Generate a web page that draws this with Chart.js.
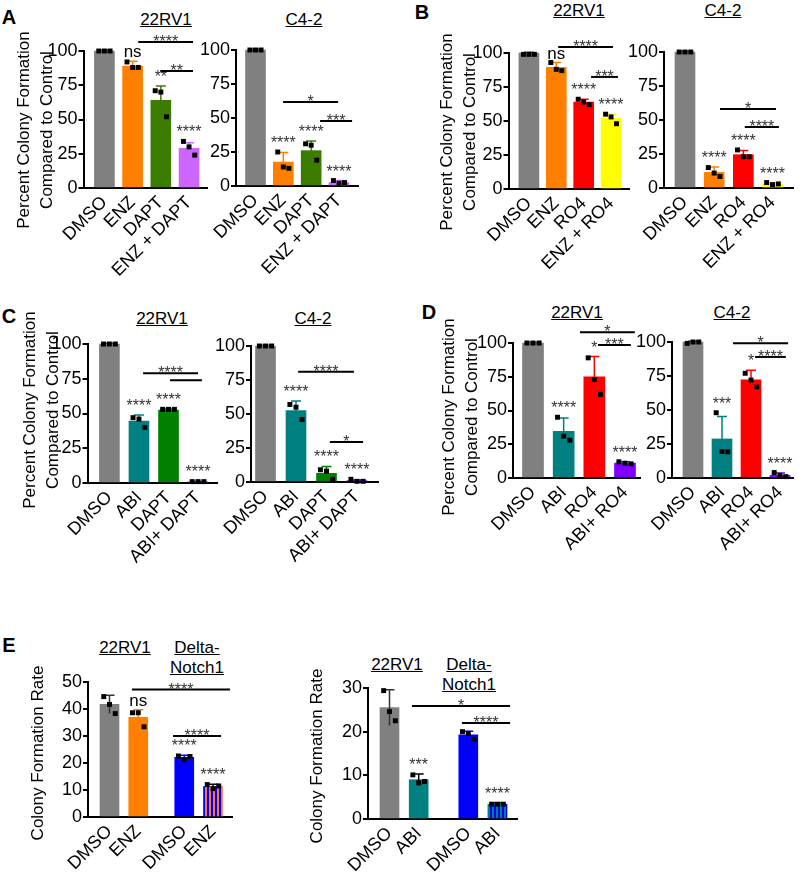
<!DOCTYPE html>
<html lang="en">
<head>
<meta charset="UTF-8">
<title>Colony formation</title>
<script src="https://cdn.jsdelivr.net/npm/chart.js@4"></script>
<style>
  body { margin: 0; background: #fff; font-family: Arial, "Liberation Sans", sans-serif; }
  #fig { position: relative; width: 800px; height: 872px; overflow: hidden; }
  .box { position: absolute; }
  .letter { position: absolute; font-weight: bold; font-size: 20px; line-height: 20px; color: #000; transform: translate(-50%, -50%); }
  .ttl { position: absolute; font-size: 17px; line-height: 20px; color: #000; text-decoration: underline; white-space: nowrap; transform: translate(-50%, -50%); }
</style>
</head>
<body>
<div id="fig">
  <div class="letter" style="left:9px;top:17px">A</div>
  <div class="letter" style="left:422px;top:12px">B</div>
  <div class="letter" style="left:9px;top:316px">C</div>
  <div class="letter" style="left:429px;top:312px">D</div>
  <div class="letter" style="left:9px;top:645px">E</div>

  <div class="ttl" style="left:166px;top:20px">22RV1</div>
  <div class="ttl" style="left:304px;top:20px">C4-2</div>
  <div class="ttl" style="left:579px;top:11px">22RV1</div>
  <div class="ttl" style="left:723px;top:11px">C4-2</div>
  <div class="ttl" style="left:162px;top:319px">22RV1</div>
  <div class="ttl" style="left:313px;top:319px">C4-2</div>
  <div class="ttl" style="left:577px;top:313px">22RV1</div>
  <div class="ttl" style="left:732px;top:313px">C4-2</div>
  <div class="ttl" style="left:125px;top:648px">22RV1</div>
  <div class="ttl" style="left:197px;top:648px">Delta-</div>
  <div class="ttl" style="left:197px;top:668px">Notch1</div>
  <div class="ttl" style="left:397px;top:665px">22RV1</div>
  <div class="ttl" style="left:469px;top:665px">Delta-</div>
  <div class="ttl" style="left:469px;top:685px">Notch1</div>
</div>
<script>
// ---- data ----
const pctTitle = ['Percent Colony Formation', 'Compared to Control'];
const rateTitle = ['Colony Formation Rate'];

// A
const aLabels = ['DMSO', 'ENZ', 'DAPT', 'ENZ + DAPT'];
const a22Means = [100, 89, 64, 29];
const a22Err = [0.5, 3.5, 10.5, 4];
const a22Dots = [[100, 100, 100], [92, 88, 88], [71, 70, 52], [34, 30, 24]];
const a22Stars = ['', 'ns', '**', '****'];
const a22Brackets = [[1.2, 3.14, 106.5, '****'], [1.98, 3.14, 85.4, '**']];

const a42Means = [100, 17.6, 26, 2.5];
const a42Err = [0.5, 7, 7, 1.5];
const a42Dots = [[100, 100, 100], [25, 14, 13], [31, 30, 19], [4, 2, 2.5]];
const a42Stars = ['', '****', '****', '****'];
const a42Brackets = [[0.99, 2.97, 61.8, '*'], [2.32, 3.47, 47.8, '***']];

// B
const bLabels = ['DMSO', 'ENZ', 'RO4', 'ENZ + RO4'];
const b22Means = [100, 89.5, 64, 52];
const b22Err = [0.5, 3.5, 2, 3];
const b22Dots = [[99, 99, 99], [93, 88, 87], [66, 64, 62], [55, 53, 48]];
const b22Stars = ['', 'ns', '****', '****'];
const b22Brackets = [[1.07, 3.07, 104.4, '****'], [2.27, 3.25, 82.4, '***']];

const b42Means = [100, 11.5, 24.5, 3];
const b42Err = [0.5, 4, 3, 1];
const b42Dots = [[100, 100, 100], [15, 11, 8.5], [28, 23, 23], [4, 2.5, 3]];
const b42Stars = ['', '****', '****', '****'];
const b42Brackets = [[1.2, 3.12, 58, '*'], [2.05, 3.22, 44.9, '****']];

// C
const cLabels = ['DMSO', 'ABI', 'DAPT', 'ABI+ DAPT'];
const c22Means = [100, 44.5, 52.5, 0.8];
const c22Err = [0.5, 4.5, 0.8, 0.3];
const c22Dots = [[100, 100, 100], [47, 46, 40], [53, 53, 53], [1, 1, 1]];
const c22Stars = ['', '****', '****', '****'];
const c22Brackets = [[1.14, 3.0, 79, '****'], [2.05, 3.13, 74, '']];

const c42Means = [100, 52.5, 6.4, 1];
const c42Err = [0.5, 7, 5, 0.5];
const c42Dots = [[100, 100, 100], [57, 55, 46], [9, 8, 2], [2, 0.5, 0.5]];
const c42Stars = ['', '****', '****', '****'];
const c42Brackets = [[1.07, 2.9, 81, '****'], [2.11, 3.2, 29.4, '*']];

// D
const dLabels = ['DMSO', 'ABI', 'RO4', 'ABI+ RO4'];
const d22Means = [100, 34.5, 75, 11];
const d22Err = [0.5, 10, 15, 1];
const d22Dots = [[100, 100, 100], [45, 31, 28], [89, 73, 62], [12, 11, 10.5]];
const d22Stars = ['', '****', '*', '****'];
const d22Brackets = [[1.53, 3.32, 108, '*'], [2.12, 3.19, 98.5, '***']];

const d42Means = [100, 28.7, 72.2, 2];
const d42Err = [0.5, 16.6, 7, 1.7];
const d42Dots = [[99, 100, 100], [48, 19.5, 19.2], [77, 72, 67], [4, 2, 1]];
const d42Stars = ['', '***', '*', '****'];
const d42Brackets = [[1.38, 3.28, 99, '*'], [2.14, 3.2, 89, '****']];

// E
const e1Labels = ['DMSO', 'ENZ', 'DMSO', 'ENZ'];
const e1Means = [41.7, 36.9, 22.1, 11.3];
const e1Err = [3.4, 2.8, 0.8, 0.8];
const e1Dots = [[44.6, 41.7, 38.3], [38.6, 38.6, 33.4], [22.6, 21.2, 22.4], [12, 10.5, 11.5]];
const e1Stars = ['', 'ns', '****', '****'];
const e1Brackets = [[0.78, 4.19, 47.2, '****'], [2.21, 3.88, 30, '****']];

const e2Labels = ['DMSO', 'ABI', 'DMSO', 'ABI'];
const e2Means = [25.5, 9, 19.3, 3.4];
const e2Err = [4.1, 1.3, 0.8, 0.3];
const e2Dots = [[29.4, 24.6, 22.5], [10.1, 8.3, 8.6], [20, 19.6, 18.3], [3.4, 3.4, 3.4]];
const e2Stars = ['', '***', '', '****'];
const e2Brackets = [[0.77, 4.13, 25.9, '*'], [2.48, 4.13, 22, '****']];

// ---- styles ----
const FONT = 'Arial, "Liberation Sans", sans-serif';
const GRAY = '#808080', ORANGE = '#ff8000', OLIVE = '#3c7d00', PINK = '#cc66ff';
const RED = '#ff0000', YELLOW = '#ffff00', TEAL = '#008080', GREEN = '#008000';
const VIOLET = '#8000ff', BLUE = '#0000ff';
const jitter = [-0.2, 0, 0.2];

Chart.defaults.font.family = FONT;
Chart.defaults.color = '#000';

const fig = document.getElementById('fig');

function stripes(ctx, base, line) {
    const c = document.createElement('canvas');
    c.width = 4; c.height = 4;
    const g = c.getContext('2d');
    g.fillStyle = base; g.fillRect(0, 0, 4, 4);
    g.fillStyle = line; g.fillRect(2, 0, 2, 4);
    return ctx.createPattern(c, 'repeat');
}

function sigPlugin(s, cx, cy) {
    return {
        id: 'sig',
        afterDatasetDraw(chart, args) {
            if (args.index !== 1) return;
            const xs = chart.scales.x, ys = chart.scales.y, ctx = chart.ctx;
            ctx.save();
            ctx.lineWidth = 1.5;
            s.means.forEach((m, i) => {
                const x = xs.getPixelForValue(s.pos[i]);
                const hi = ys.getPixelForValue(m + s.err[i]);
                const lo = ys.getPixelForValue(m - s.err[i]);
                ctx.strokeStyle = s.errColors[i];
                ctx.beginPath();
                ctx.moveTo(x, lo); ctx.lineTo(x, hi);
                ctx.moveTo(x - 5, hi); ctx.lineTo(x + 5, hi);
                ctx.stroke();
            });
            ctx.restore();
        },
        afterDraw(chart) {
            const xs = chart.scales.x, ys = chart.scales.y, ctx = chart.ctx;
            ctx.save();
            ctx.textAlign = 'center';
            ctx.textBaseline = 'alphabetic';
            s.stars.forEach((t, i) => {
                if (!t) return;
                const top = Math.max(s.means[i] + s.err[i], ...s.dots[i]);
                const x = xs.getPixelForValue(s.pos[i]);
                const y = ys.getPixelForValue(top) - 4;
                ctx.fillStyle = t === 'ns' ? '#000' : '#333';
                ctx.font = (t === 'ns' ? '17px ' : '16px ') + FONT;
                ctx.fillText(t, x, y);
            });
            ctx.strokeStyle = '#000';
            ctx.lineWidth = 2;
            s.brackets.forEach(b => {
                const x1 = xs.getPixelForValue(b[0]), x2 = xs.getPixelForValue(b[1]);
                const y = ys.getPixelForValue(b[2]);
                ctx.beginPath();
                ctx.moveTo(x1, y); ctx.lineTo(x2, y);
                ctx.stroke();
                if (b[3]) {
                    ctx.fillStyle = '#333';
                    ctx.font = '16px ' + FONT;
                    ctx.fillText(b[3], (x1 + x2) / 2, y + 5);
                }
            });
            // y axis title, rotated lines
            if (s.yTitle) {
                const lh = 23;
                ctx.fillStyle = '#000';
                ctx.font = '17px ' + FONT;
                ctx.textBaseline = 'middle';
                s.yTitle.forEach((line, k) => {
                    ctx.save();
                    ctx.translate(s.titleLeft - cx + lh / 2 + k * lh, s.titleMid - cy);
                    ctx.rotate(-Math.PI / 2);
                    ctx.fillText(line, 0, 0);
                    ctx.restore();
                });
            }
            ctx.restore();
        }
    };
}

function buildChart(s) {
    const a = s.area;
    const cx = s.yTitle ? s.titleLeft : a.l - 42;
    const cy = a.t - 45;
    const xh = 100;
    const cw = a.r - cx + 10;
    const ch = a.b - cy + xh;

    const box = document.createElement('div');
    box.className = 'box';
    box.style.left = cx + 'px';
    box.style.top = cy + 'px';
    const cv = document.createElement('canvas');
    cv.width = cw; cv.height = ch;
    cv.style.width = cw + 'px'; cv.style.height = ch + 'px';
    box.appendChild(cv);
    fig.appendChild(box);
    const ctx = cv.getContext('2d');

    const n = s.pos.length;
    const unit = (s.last - s.first) / (s.pos[n - 1] - s.pos[0]);
    const xMin = s.pos[0] - (s.first - a.l) / unit;
    const xMax = s.pos[n - 1] + (a.r - s.last) / unit;

    const fills = s.colors.map(c => Array.isArray(c) ? stripes(ctx, c[0], c[1]) : c);
    const dotData = [];
    s.dots.forEach((arr, i) => arr.forEach((v, k) => dotData.push({ x: s.pos[i] + jitter[k], y: v })));

    return new Chart(ctx, {
        type: 'bar',
        data: {
            datasets: [
                {
                    type: 'scatter',
                    data: dotData,
                    pointStyle: 'rect',
                    pointRadius: 3.5,
                    backgroundColor: '#000',
                    borderWidth: 0,
                    clip: false
                },
                {
                    type: 'bar',
                    data: s.means.map((m, i) => ({ x: s.pos[i], y: m })),
                    backgroundColor: fills,
                    borderWidth: 0,
                    barThickness: s.barW,
                    clip: false
                }
            ]
        },
        options: {
            responsive: false,
            animation: false,
            events: [],
            layout: { padding: { left: 0, top: a.t - cy, right: cw - (a.r - cx), bottom: 0 } },
            plugins: { legend: { display: false }, tooltip: { enabled: false } },
            scales: {
                x: {
                    type: 'linear',
                    min: xMin, max: xMax,
                    offset: false,
                    bounds: 'data',
                    grid: { display: false, drawTicks: false },
                    border: { display: true, color: '#000', width: 2 },
                    afterBuildTicks: sc => { sc.ticks = s.pos.map(v => ({ value: v })); },
                    afterFit: sc => { sc.height = xh; },
                    ticks: {
                        autoSkip: false,
                        minRotation: 45, maxRotation: 45,
                        padding: 4,
                        color: '#000',
                        font: { family: FONT, size: 18 },
                        callback: (v, i) => s.labels[i]
                    }
                },
                y: {
                    min: 0, max: s.yMax,
                    grid: { drawOnChartArea: false, drawTicks: true, tickLength: 5, color: '#000', lineWidth: 2 },
                    border: { display: true, color: '#000', width: 2 },
                    afterFit: sc => { sc.width = a.l - cx; },
                    ticks: { stepSize: s.yStep, padding: 1, color: '#000', font: { family: FONT, size: 18 } }
                }
            }
        },
        plugins: [sigPlugin(s, cx, cy)]
    });
}

const four = [0, 1, 2, 3];

buildChart({ area: { l: 83, r: 207, t: 51, b: 188 }, first: 104, last: 189, pos: four, barW: 20,
    yTitle: pctTitle, titleLeft: 12.5, titleMid: 130, yMax: 100, yStep: 25, labels: aLabels,
    means: a22Means, err: a22Err, dots: a22Dots, stars: a22Stars, brackets: a22Brackets,
    colors: [GRAY, ORANGE, OLIVE, PINK], errColors: ['#404040', ORANGE, OLIVE, PINK] });
buildChart({ area: { l: 236, r: 358, t: 50, b: 186 }, first: 255.5, last: 339, pos: four, barW: 20,
    yMax: 100, yStep: 25, labels: aLabels,
    means: a42Means, err: a42Err, dots: a42Dots, stars: a42Stars, brackets: a42Brackets,
    colors: [GRAY, ORANGE, OLIVE, PINK], errColors: ['#404040', ORANGE, OLIVE, PINK] });

buildChart({ area: { l: 508, r: 629, t: 53, b: 189 }, first: 528.5, last: 611, pos: four, barW: 20,
    yTitle: pctTitle, titleLeft: 435.5, titleMid: 132, yMax: 100, yStep: 25, labels: bLabels,
    means: b22Means, err: b22Err, dots: b22Dots, stars: b22Stars, brackets: b22Brackets,
    colors: [GRAY, ORANGE, RED, YELLOW], errColors: ['#404040', ORANGE, RED, YELLOW] });
buildChart({ area: { l: 664, r: 793, t: 52, b: 188 }, first: 685, last: 772.5, pos: four, barW: 20,
    yMax: 100, yStep: 25, labels: bLabels,
    means: b42Means, err: b42Err, dots: b42Dots, stars: b42Stars, brackets: b42Brackets,
    colors: [GRAY, ORANGE, RED, YELLOW], errColors: ['#404040', ORANGE, RED, YELLOW] });

buildChart({ area: { l: 87, r: 217, t: 344, b: 483 }, first: 109, last: 198, pos: four, barW: 20,
    yTitle: pctTitle, titleLeft: 18.5, titleMid: 410, yMax: 100, yStep: 25, labels: cLabels,
    means: c22Means, err: c22Err, dots: c22Dots, stars: c22Stars, brackets: c22Brackets,
    colors: [GRAY, TEAL, GREEN, VIOLET], errColors: ['#404040', TEAL, GREEN, VIOLET] });
buildChart({ area: { l: 251, r: 378, t: 346, b: 482 }, first: 265.5, last: 357, pos: four, barW: 20,
    yMax: 100, yStep: 25, labels: cLabels,
    means: c42Means, err: c42Err, dots: c42Dots, stars: c42Stars, brackets: c42Brackets,
    colors: [GRAY, TEAL, GREEN, VIOLET], errColors: ['#404040', TEAL, GREEN, VIOLET] });

buildChart({ area: { l: 513, r: 640, t: 343, b: 478 }, first: 533, last: 625, pos: four, barW: 21,
    yTitle: pctTitle, titleLeft: 438, titleMid: 417, yMax: 100, yStep: 25, labels: dLabels,
    means: d22Means, err: d22Err, dots: d22Dots, stars: d22Stars, brackets: d22Brackets,
    colors: [GRAY, TEAL, RED, VIOLET], errColors: ['#404040', TEAL, RED, VIOLET] });
buildChart({ area: { l: 672, r: 793, t: 342, b: 478 }, first: 693, last: 780, pos: four, barW: 20,
    yMax: 100, yStep: 25, labels: dLabels,
    means: d42Means, err: d42Err, dots: d42Dots, stars: d42Stars, brackets: d42Brackets,
    colors: [GRAY, TEAL, RED, VIOLET], errColors: ['#404040', TEAL, RED, VIOLET] });

buildChart({ area: { l: 88, r: 232, t: 682, b: 817 }, first: 109.5, last: 213, pos: [0, 1, 2.6, 3.6], barW: 19,
    yTitle: rateTitle, titleLeft: 27, titleMid: 753, yMax: 50, yStep: 10, labels: e1Labels,
    means: e1Means, err: e1Err, dots: e1Dots, stars: e1Stars, brackets: e1Brackets,
    colors: [GRAY, ORANGE, BLUE, [BLUE, '#ff7a30']], errColors: ['#333', ORANGE, BLUE, '#000'] });
buildChart({ area: { l: 368, r: 517, t: 688, b: 819 }, first: 389.5, last: 497.5, pos: [0, 1, 2.7, 3.7], barW: 19,
    yTitle: rateTitle, titleLeft: 306, titleMid: 756, yMax: 30, yStep: 10, labels: e2Labels,
    means: e2Means, err: e2Err, dots: e2Dots, stars: e2Stars, brackets: e2Brackets,
    colors: [GRAY, TEAL, BLUE, [BLUE, TEAL]], errColors: ['#333', '#000', BLUE, '#000'] });
</script>
</body>
</html>
